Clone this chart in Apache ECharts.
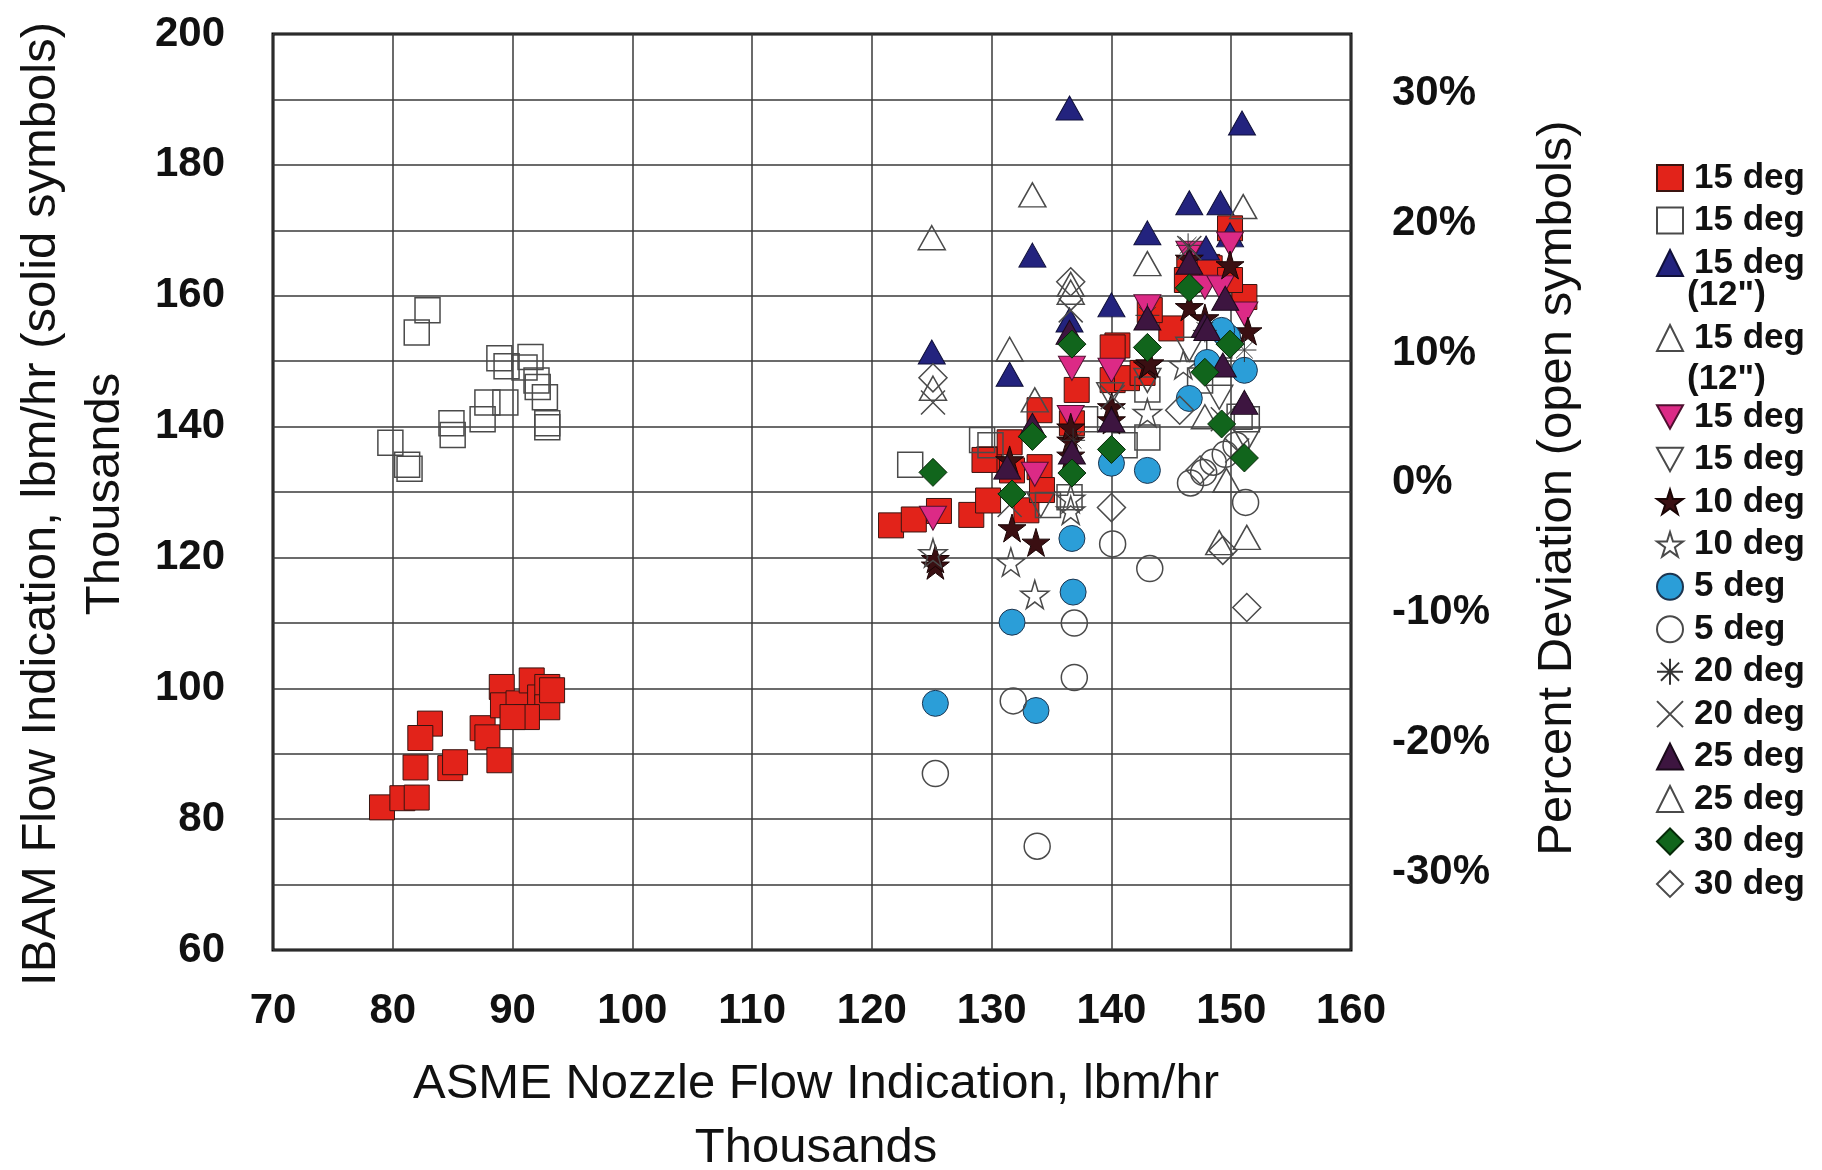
<!DOCTYPE html>
<html>
<head>
<meta charset="utf-8">
<script src="https://cdn.jsdelivr.net/npm/echarts@6/dist/echarts.min.js"></script>
<style>
html,body{margin:0;padding:0;background:#fff;}
#chart{width:1822px;height:1170px;}
</style>
</head>
<body>
<div id="chart"></div>
<script>
// solid symbols: [ASME flow, IBAM flow] (thousands lbm/hr)
// open symbols: [ASME flow, percent deviation]
var sq15Solid = [[79.1,81.8],[80.8,83.2],[82.0,83.3],[83.1,94.6],[82.3,92.4],[81.9,87.9],[84.8,87.8],[85.2,88.7],[87.5,93.9],[87.9,92.5],[88.9,89.0],[89.1,100.2],[89.2,97.4],[90.5,97.7],[91.6,101.2],[92.3,98.6],[92.9,100.2],[92.9,97.1],[93.3,99.7],[91.2,95.6],[90.0,95.6],
  [121.6,124.9],[123.5,125.8],[125.6,127.1],[128.3,126.5],[129.7,128.7],[129.8,135.0],[131.5,137.6],[134.0,133.8],[134.0,142.5],[132.9,127.2],[137.1,145.6],[140.1,147.1],[140.5,152.4],[141.3,147.4],[136.7,140.5],[140.1,152.1],[145.0,155.0],[143.2,157.8],[149.9,170.3],[148.0,164.4],[151.1,159.8],[146.5,164.2],[148.2,164.2],[142.6,148.2],[146.3,162.4],[149.9,162.4],[131.7,133.3],[134.2,130.3],[129.4,134.9]];
var sq15Open = [[82.9,13.3],[82.0,11.6],[88.9,9.6],[89.5,9.0],[91.5,9.7],[91.0,8.9],[92.0,7.9],[92.1,7.4],[87.9,6.2],[89.4,6.2],[87.5,4.9],[84.9,4.6],[85.0,3.7],[79.8,3.1],[92.7,6.6],[92.9,4.6],[92.9,4.3],[81.4,1.1],[81.2,1.4],
  [123.2,1.4],[129.9,2.9],[134.7,-1.7],[136.5,-1.1],[143.0,7.2],[143.0,3.5],[150.7,5.1],[151.3,4.9],[137.8,4.9],[147.4,7.9],[149.0,10.6],[141.1,2.9],[129.2,3.3]];
var tri12Solid = [[136.5,188.7],[150.9,186.4],[133.4,166.2],[125.0,151.4],[146.5,174.2],[149.1,174.2],[143.0,169.6],[140.0,158.6],[147.9,167.3],[131.5,148.0],[136.5,156.3],[149.9,169.3]];
var tri12Open = [[133.4,22.2],[125.0,18.9],[143.0,16.9],[136.6,15.3],[136.6,14.7],[131.5,10.3],[125.1,7.3],[151.0,21.3]];
var inv15Solid = [[136.7,148.9],[140.0,148.6],[146.5,166.5],[147.8,161.3],[149.1,161.2],[149.9,167.9],[143.0,158.3],[151.1,157.2],[125.1,126.0],[133.6,132.7],[136.6,141.4]];
var inv15Open = [[151.3,3.3],[149.0,6.6],[143.0,7.9],[134.1,-1.7],[139.9,6.8],[146.5,10.3]];
var star10Solid = [[125.3,118.8],[125.3,119.8],[131.7,124.5],[133.7,122.3],[136.6,137.9],[136.6,135.6],[136.6,139.9],[140.0,143.0],[140.0,141.0],[143.0,149.4],[146.5,165.7],[149.9,164.7],[151.4,154.6],[146.5,158.3],[147.8,156.6],[143.2,149.7],[131.5,134.9]];
var star10Open = [[125.1,-5.4],[131.6,-6.1],[133.6,-8.6],[143.0,5.4],[136.6,-2.1],[136.6,-1.2],[146.0,9.1]];
var circ5Solid = [[146.5,144.3],[136.7,122.9],[136.8,114.7],[131.7,110.1],[140.0,134.4],[143.0,133.3],[125.3,97.7],[133.7,96.6],[148.0,149.8],[151.1,148.6],[149.7,153.7],[149.2,154.7]];
var circ5Open = [[125.3,-22.4],[131.8,-16.8],[133.8,-28.0],[136.9,-15.0],[136.9,-10.8],[140.1,-4.7],[143.2,-6.6],[146.6,0.0],[147.7,0.8],[148.5,1.6],[151.2,-1.5],[149.5,2.2],[150.4,2.9]];
var ast20Solid = [[146.4,167.7],[147.8,154.7],[151.1,151.7],[143.0,157.0],[136.8,137.9]];
var x20Open = [[125.1,6.2],[136.6,13.3],[146.5,18.1],[150.5,2.5],[140.1,6.6],[131.5,-1.7],[149.3,4.9]];
var tri25Solid = [[136.5,154.4],[133.4,140.2],[131.3,133.8],[136.7,136.1],[140.0,141.0],[143.0,156.6],[147.8,155.5],[149.5,159.6],[146.5,165.1],[148.0,155.0],[149.3,149.4],[151.1,143.7]];
var tri25Open = [[151.3,-4.2],[133.6,6.4],[149.6,0.2],[147.8,5.1],[149.0,-4.6]];
var dia30Solid = [[125.1,133.0],[131.7,129.7],[133.4,138.5],[136.7,132.9],[140.0,136.5],[147.8,148.3],[149.2,140.4],[136.7,152.6],[143.0,152.1],[146.5,161.2],[149.9,152.6],[151.1,135.2]];
var dia30Open = [[125.1,8.1],[140.0,-1.9],[149.3,-5.2],[151.3,-9.6],[136.6,15.5],[147.4,1.0],[145.7,5.6]];

var pctTicks = [-30,-20,-10,0,10,20,30];

var legendLabels = {
  sq15s:'15 deg', sq15o:'15 deg', tri12s:'15 deg', tri12o:'15 deg',
  inv15s:'15 deg', inv15o:'15 deg', star10s:'10 deg', star10o:'10 deg',
  circ5s:'5 deg', circ5o:'5 deg', ast20s:'20 deg', x20o:'20 deg',
  tri25s:'25 deg', tri25o:'25 deg', dia30s:'30 deg', dia30o:'30 deg'
};

var INV = 'path://M0,0 L10,0 L5,9 Z';
var STAR = 'path://M50,0 L61,35 L98,35 L68,57 L79,91 L50,70 L21,91 L32,57 L2,35 L39,35 Z';
var AST = 'path://M0,10 L20,10 M10,0 L10,20 M3,3 L17,17 M3,17 L17,3';
var XS = 'path://M0,0 L20,20 M0,20 L20,0';
var OPEN = 'rgba(255,255,255,0)';
var OPENLINE = '#4a4a4a';

function mk(name, data, symbol, size, color, border, axis){
  return {
    name: name, type: 'scatter', data: data, yAxisIndex: axis,
    symbol: symbol, symbolSize: size,
    itemStyle: {color: color, borderColor: border, borderWidth: axis ? 1.5 : 1, opacity: 1},
    emphasis: {disabled: true}, silent: true
  };
}

var series = [
  mk('sq15s', sq15Solid, 'rect', 25, '#e2231a', '#3a1410', 0),
  mk('sq15o', sq15Open, 'rect', 25, OPEN, OPENLINE, 1),
  mk('tri12s', tri12Solid, 'triangle', [27,24], '#23237e', '#10103a', 0),
  mk('tri12o', tri12Open, 'triangle', [27,24], OPEN, OPENLINE, 1),
  mk('inv15s', inv15Solid, INV, [27,24], '#dc2a86', '#501030', 0),
  mk('inv15o', inv15Open, INV, [27,24], OPEN, OPENLINE, 1),
  mk('star10s', star10Solid, STAR, 28, '#3a0f12', '#1a0505', 0),
  mk('star10o', star10Open, STAR, 28, OPEN, OPENLINE, 1),
  mk('circ5s', circ5Solid, 'circle', 26, '#2b9ed8', '#1c3550', 0),
  mk('circ5o', circ5Open, 'circle', 26, OPEN, OPENLINE, 1),
  mk('ast20s', ast20Solid, AST, 24, OPEN, '#333333', 0),
  mk('x20o', x20Open, XS, 24, OPEN, OPENLINE, 1),
  mk('tri25s', tri25Solid, 'triangle', [27,24], '#3d1540', '#1a0a1a', 0),
  mk('tri25o', tri25Open, 'triangle', [27,24], OPEN, OPENLINE, 1),
  mk('dia30s', dia30Solid, 'diamond', 28, '#11651c', '#062a08', 0),
  mk('dia30o', dia30Open, 'diamond', 28, OPEN, OPENLINE, 1)
];

var FONT = 'Liberation Sans';
var legendBase = {
  orient: 'vertical', left: 1651, itemWidth: 26, itemHeight: 26,
  selectedMode: false,
  textStyle: {fontFamily: FONT, fontWeight: 'bold', fontSize: 35, color: '#111', lineHeight: 36, padding: [0, 0, 0, 6]},
  formatter: function(n){ return legendLabels[n]; }
};
function lg(top, gap, names){
  var o = {};
  for (var k in legendBase) o[k] = legendBase[k];
  o.top = top; o.itemGap = gap; o.data = names;
  return o;
}

var chart = echarts.init(document.getElementById('chart'));
chart.setOption({
  backgroundColor: '#ffffff',
  animation: false,
  grid: {left: 273, right: 471, top: 34, bottom: 220, show: true, borderColor: '#000', borderWidth: 3, backgroundColor: 'transparent'},
  xAxis: {
    type: 'value', min: 70, max: 160, interval: 10,
    axisLine: {show: false}, axisTick: {show: false},
    splitLine: {show: true, lineStyle: {color: '#3a3a3a', width: 1.5}},
    axisLabel: {margin: 40, fontFamily: FONT, fontWeight: 'bold', fontSize: 42, color: '#111'}
  },
  yAxis: [{
    type: 'value', min: 60, max: 200, interval: 10,
    axisLine: {show: false}, axisTick: {show: false},
    splitLine: {show: true, lineStyle: {color: '#3a3a3a', width: 1.5}},
    axisLabel: {margin: 48, fontFamily: FONT, fontWeight: 'bold', fontSize: 42, color: '#111',
      formatter: function(v){ return v % 20 === 0 ? v : ''; }}
  }, {
    type: 'value', position: 'right', min: -36, max: 34.6,
    axisLine: {show: false}, axisTick: {show: false}, splitLine: {show: false},
    axisLabel: {margin: 41, customValues: pctTicks, fontFamily: FONT, fontWeight: 'bold', fontSize: 42, color: '#111',
      formatter: function(v){ return Math.round(v) + '%'; }}
  }],
  legend: [
    lg(155, 6.5, ['sq15s','sq15o','tri12s']),
    lg(315, 6.5, ['tri12o']),
    lg(394, 6.45, ['inv15s','inv15o','star10s','star10o','circ5s','circ5o','ast20s','x20o','tri25s','tri25o','dia30s','dia30o'])
  ],
  graphic: [
    {type: 'text', x: 1687, y: 295, style: {text: '(12")', font: 'bold 35px "Liberation Sans"', fill: '#111', textAlign: 'left', textVerticalAlign: 'middle'}},
    {type: 'text', x: 1687, y: 379, style: {text: '(12")', font: 'bold 35px "Liberation Sans"', fill: '#111', textAlign: 'left', textVerticalAlign: 'middle'}},
    {type: 'text', x: 41, y: 504, rotation: Math.PI / 2, style: {text: 'IBAM Flow Indication, lbm/hr (solid symbols)', font: '49px "Liberation Sans"', fill: '#111', textAlign: 'center', textVerticalAlign: 'middle'}},
    {type: 'text', x: 105, y: 494, rotation: Math.PI / 2, style: {text: 'Thousands', font: '49px "Liberation Sans"', fill: '#111', textAlign: 'center', textVerticalAlign: 'middle'}},
    {type: 'text', x: 1557, y: 488, rotation: Math.PI / 2, style: {text: 'Percent Deviation (open symbols)', font: '49px "Liberation Sans"', fill: '#111', textAlign: 'center', textVerticalAlign: 'middle'}},
    {type: 'text', x: 816, y: 1084, style: {text: 'ASME Nozzle Flow Indication, lbm/hr', font: '49px "Liberation Sans"', fill: '#111', textAlign: 'center', textVerticalAlign: 'middle'}},
    {type: 'text', x: 816, y: 1148, style: {text: 'Thousands', font: '49px "Liberation Sans"', fill: '#111', textAlign: 'center', textVerticalAlign: 'middle'}}
  ],
  series: series
});
window.addEventListener('resize', function(){ chart.resize(); });
</script>
</body>
</html>
